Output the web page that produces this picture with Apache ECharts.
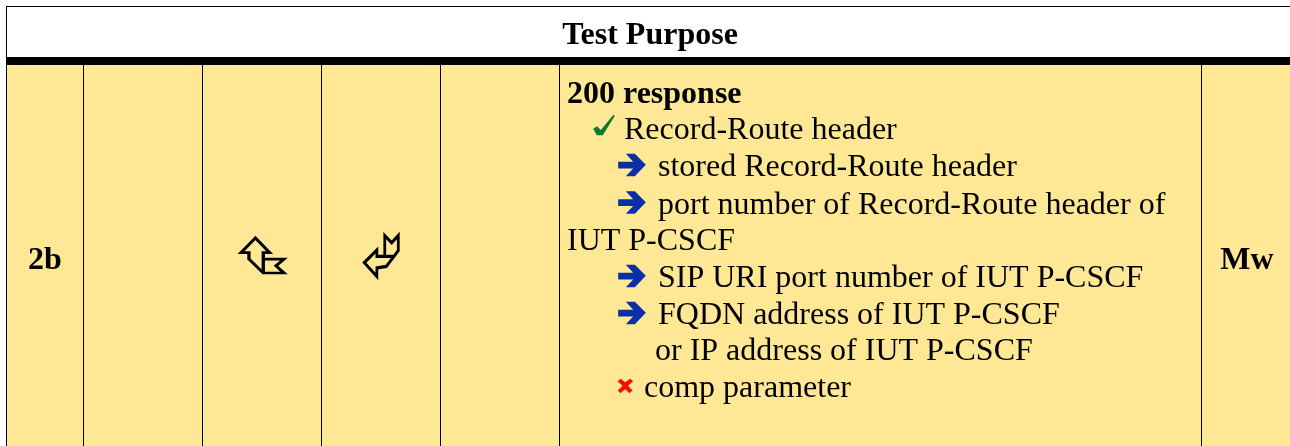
<!DOCTYPE html>
<html>
<head>
<meta charset="utf-8">
<title>Test Purpose</title>
<style>
  html, body { margin: 0; padding: 0; background: #fff; }
  #chart { width: 1290px; height: 446px; }
</style>
<script src="https://cdn.jsdelivr.net/npm/echarts@6/dist/echarts.min.js"></script>
</head>
<body>
<div id="chart"></div>
<script>
// table content
var headerText = 'Test Purpose'
var rowLabel = '2b'
var interfaceLabel = 'Mw'
var purposeLines = [
  '200 response',
  'Record-Route header',
  'stored Record-Route header',
  'port number of Record-Route header of',
  'IUT P-CSCF',
  'SIP URI port number of IUT P-CSCF',
  'FQDN address of IUT P-CSCF',
  'or IP address of IUT P-CSCF',
  'comp parameter'
]

// layout, in page pixels (axes below run 1:1 with the canvas)
var columnRules = [6, 83, 202, 321, 440, 559, 1201]
var lineX = [567, 624, 658, 658, 567, 658, 658, 655, 644]
var lineY = [102, 138, 175, 213, 249, 286, 323, 359, 396]

var FONT = '"Liberation Serif", "Times New Roman", serif'
var FONT_SIZE = 32
var BASELINE_SHIFT = 23 // text is placed by its top edge
var CELL_FILL = '#FEE896'

// wingdings-like glyphs as symbol paths
var ICON_TICK = 'path://M117 172L129 165L140 176L178 130L182 133L146 192L128 192Z'
var ICON_ARROW = 'path://M190 272L235 272L213 248L240 248L273 281L240 315L213 315L235 292L190 292Z'
var ICON_CROSS = 'path://M188 150L198 143L211 153L226 143L235 150L220 164L233 178L224 186L211 174L197 186L189 178L203 164Z'
var ICON_UP_RIGHT = 'path://M135 50L90 95L115 95L115 115L160 158L225 158L200 136L225 115L160 115L160 95L180 95ZM160 115L160 158'
var ICON_LEFT_DOWN = 'path://M460 128L500 88L500 108L525 108L525 42L547 65L568 42L568 90L530 140L500 145L500 172ZM525 108L556 108'

function rectItem(api, x0, y0, x1, y1, fill) {
  var a = api.coord([x0, y0])
  var b = api.coord([x1, y1])
  return { type: 'rect', shape: { x: a[0], y: a[1], width: b[0] - a[0], height: b[1] - a[1] }, style: { fill: fill } }
}

function renderTable(params, api) {
  var children = [
    rectItem(api, 6, 65, 1290, 446, CELL_FILL),
    rectItem(api, 6, 6, 1290, 7, '#000'),
    rectItem(api, 6, 57, 1290, 65, '#000')
  ]
  children.push(rectItem(api, 6, 6, 7, 446, '#000'))
  columnRules.slice(1).forEach(function (x) {
    children.push(rectItem(api, x, 65, x + 1, 446, '#000'))
  })
  return { type: 'group', children: children }
}

function renderText(params, api) {
  var pos = api.coord([api.value(0), api.value(1)])
  var d = textItems[params.dataIndex]
  return {
    type: 'text',
    x: pos[0],
    y: pos[1] - BASELINE_SHIFT,
    style: {
      text: d.text,
      font: (d.bold ? 'bold ' : '') + FONT_SIZE + 'px ' + FONT,
      fill: '#000',
      textAlign: d.align || 'left'
    }
  }
}

var textItems = purposeLines.map(function (t, i) {
  return { text: t, value: [lineX[i], lineY[i]], bold: i === 0 }
})
textItems.push({ text: headerText, value: [650, 43], bold: true, align: 'center' })
textItems.push({ text: rowLabel, value: [45, 268], bold: true, align: 'center' })
textItems.push({ text: interfaceLabel, value: [1247, 268], bold: true, align: 'center' })

function iconSeries(symbol, size, points, color, outline) {
  return {
    type: 'scatter',
    symbol: symbol,
    symbolSize: size,
    silent: true,
    z: 5,
    itemStyle: outline
      ? { color: 'transparent', borderColor: color, borderWidth: 3, opacity: 1 }
      : { color: color, opacity: 1 },
    data: points
  }
}

var chart = echarts.init(document.getElementById('chart'))
chart.setOption({
  animation: false,
  backgroundColor: '#fff',
  grid: { left: 0, right: 0, top: 0, bottom: 0 },
  xAxis: { type: 'value', min: 0, max: 1290, show: false },
  yAxis: { type: 'value', min: 0, max: 446, inverse: true, show: false },
  series: [
    { type: 'custom', renderItem: renderTable, data: [[0, 0]], silent: true, z: 1, clip: false },
    { type: 'custom', renderItem: renderText, data: textItems, silent: true, z: 10, clip: false },
    iconSeries(ICON_TICK, [21.7, 20.7], [[604, 125]], '#0B7A2E'),
    iconSeries(ICON_ARROW, [27.7, 22.3], [[632, 165], [632, 202.5], [632, 276], [632, 313]], '#0A2FA8'),
    iconSeries(ICON_CROSS, [15.7, 14.3], [[625.3, 386]], '#F01010'),
    iconSeries(ICON_UP_RIGHT, [43, 35], [[262.5, 255.5]], '#000', true),
    iconSeries(ICON_LEFT_DOWN, [34, 41], [[381.3, 256]], '#000', true)
  ]
})
</script>
</body>
</html>
